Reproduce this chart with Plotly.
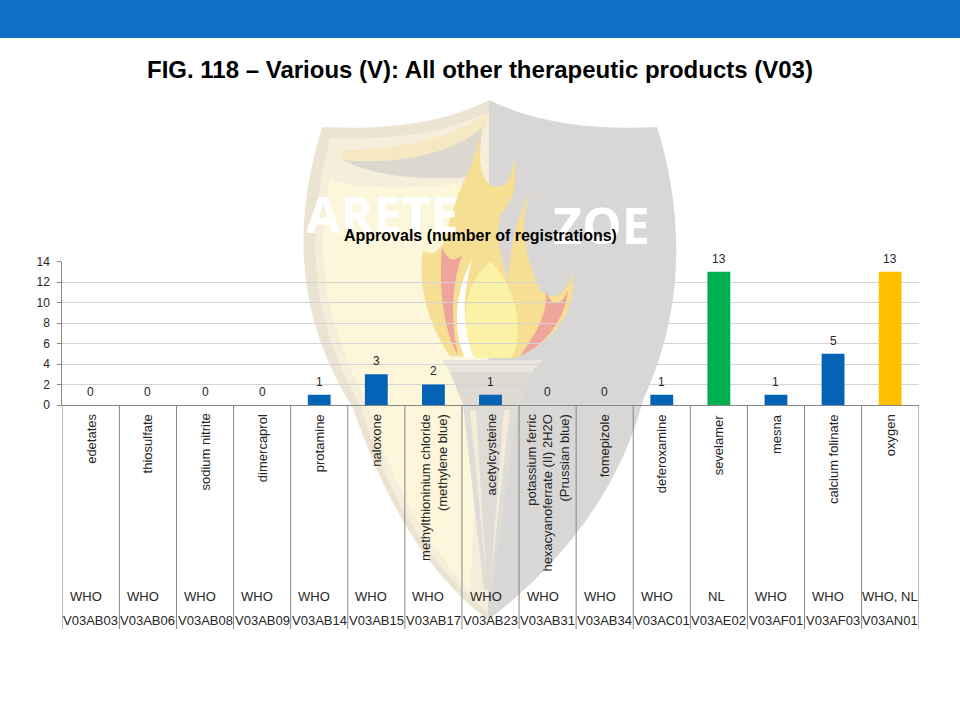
import plotly.graph_objects as go

# chart data
drugs = ['edetates', 'thiosulfate', 'sodium nitrite', 'dimercaprol', 'protamine', 'naloxone',
         'methylthioninium chloride<br>(methylene blue)', 'acetylcysteine',
         'potassium ferric<br>hexacyanoferrate (II) 2H2O<br>(Prussian blue)', 'fomepizole',
         'deferoxamine', 'sevelamer', 'mesna', 'calcium folinate', 'oxygen']
sources = ['WHO', 'WHO', 'WHO', 'WHO', 'WHO', 'WHO', 'WHO', 'WHO', 'WHO', 'WHO', 'WHO',
           'NL', 'WHO', 'WHO', 'WHO, NL']
codes = ['V03AB03', 'V03AB06', 'V03AB08', 'V03AB09', 'V03AB14', 'V03AB15', 'V03AB17', 'V03AB23',
         'V03AB31', 'V03AB34', 'V03AC01', 'V03AE02', 'V03AF01', 'V03AF03', 'V03AN01']
approvals = [0, 0, 0, 0, 1, 3, 2, 1, 0, 0, 1, 13, 1, 5, 13]

source_colors = {'WHO': '#0563B5', 'NL': '#00B050', 'WHO, NL': '#FFC000'}
source_shift = {'WHO': -5, 'NL': -2, 'WHO, NL': 0}
FONT = 'Liberation Sans'
W, H = 960, 720


def py(y):
    return 1 - y / H


def paper_path(text):
    # path written in page pixels, shapes want paper fractions
    out, is_x = [], True
    for tok in text.split():
        if tok.isalpha():
            out.append(tok)
        elif is_x:
            out.append(str(float(tok) / W))
            is_x = False
        else:
            out.append(str(py(float(tok))))
            is_x = True
    return ' '.join(out)


def blob(path, color):
    return dict(type='path', path=paper_path(path), xref='paper', yref='paper',
                fillcolor=color, line_width=0, layer='below')


# faded logo behind the chart
logo = [
    # left and right half of the shield
    blob('M 489 100 C 440 125 380 130 322 127 C 300 200 285 300 353 408 C 375 470 410 560 488 620 Z', '#ECE4D2'),
    blob('M 489 100 C 540 125 600 130 657 127 C 680 200 690 300 643 400 C 625 470 580 550 488 620 Z', '#D9D7D5'),
    # warm shading on the left half, lighter towards the middle
    blob('M 489 112 C 440 135 385 140 330 138 C 312 210 300 300 360 405 C 380 470 415 555 488 612 Z', '#F5EEDA'),
    blob('M 482 180 C 420 190 350 190 330 178 C 316 250 320 310 368 405 C 388 470 420 540 470 590 L 482 360 Z', '#FCF6DB'),
    blob('M 489 112 C 450 140 395 150 340 150 L 343 160 C 395 165 450 155 482 135 Z', '#F7E8C4'),
    # dark wing
    blob('M 343 160 C 395 165 450 155 482 128 L 478 176 C 440 180 380 180 343 160 Z', '#DBD8CF'),
    # flames
    blob('M 450 356 C 425 320 418 280 423 250 C 432 258 440 250 445 240 C 450 215 458 195 463 183 '
         'C 470 170 478 150 480 127 C 478 150 480 170 485 180 C 495 192 512 190 513 160 '
         'C 520 185 510 205 500 215 C 495 240 503 265 508 282 C 510 240 520 210 530 193 '
         'C 520 220 522 250 540 290 C 550 300 565 300 572 273 C 578 310 555 340 517 358 Z', '#F6DF93'),
    blob('M 491 262 C 470 275 460 310 468 345 L 475 358 L 512 358 C 525 330 515 285 491 262 Z', '#FCF2A6'),
    blob('M 442 247 C 448 262 455 262 462 255 C 452 285 450 320 458 355 C 445 335 438 290 442 247 Z', '#EFA59B'),
    blob('M 546 290 C 550 305 560 310 568 290 C 565 320 545 345 520 356 C 535 335 548 315 546 290 Z', '#EFA59B'),
    blob('M 472 260 C 455 290 452 330 465 358 L 474 358 C 462 330 462 295 472 260 Z', '#FFFFFF'),
    # pedestal and stem
    blob('M 442 360 L 543 360 L 532 372 L 450 372 Z', '#E8E6DC'),
    blob('M 450 372 L 532 372 L 520 405 L 463 405 Z', '#DCDAD2'),
    blob('M 463 405 L 518 405 L 492 590 L 484 590 Z', '#DEDCD6'),
    blob('M 470 410 L 476 410 L 486 575 Z', '#F3EDD8'),
    blob('M 504 410 L 510 410 L 491 575 Z', '#F3EDD8'),
]

fig = go.Figure()
fig.add_trace(go.Bar(
    x=list(range(len(codes))),
    y=approvals,
    width=0.4,
    marker_color=[source_colors[s] for s in sources],
    marker_line_width=0,
    hoverinfo='skip',
))

annotations = [
    dict(text='<b>ARETE</b>', x=382 / W, y=py(214), font=dict(family='Open Sans', size=50, color='white')),
    dict(text='<b>ZOE</b>', x=601 / W, y=py(225), font=dict(family='Open Sans', size=50, color='white')),
    dict(text='<b>FIG. 118 – Various (V): All other therapeutic products (V03)</b>', x=480 / W, y=py(70),
         font=dict(family=FONT, size=24, color='black')),
    dict(text='<b>Approvals (number of registrations)</b>', x=480 / W, y=py(236),
         font=dict(family=FONT, size=16, color='black')),
]
for a in annotations:
    a.update(xref='paper', yref='paper', showarrow=False, xanchor='center', yanchor='middle')

label_font = dict(family=FONT, size=13, color='#262626')
for i in range(len(codes)):
    annotations.append(dict(x=i, y=approvals[i], xref='x', yref='y', text=str(approvals[i]), showarrow=False,
                            yshift=13, yanchor='middle', font=dict(family=FONT, size=12, color='#262626')))
    annotations.append(dict(x=i, y=py(412), xref='x', yref='paper', text=drugs[i], showarrow=False,
                            textangle=-90, yanchor='top', align='right', font=label_font))
    annotations.append(dict(x=i, y=py(596), xref='x', yref='paper', text=sources[i], showarrow=False,
                            yanchor='middle', xshift=source_shift[sources[i]], font=label_font))
    annotations.append(dict(x=i, y=py(620), xref='x', yref='paper', text=codes[i], showarrow=False,
                            yanchor='middle', font=label_font))

# category table lines under the axis
table_lines = [dict(type='line', xref='x', yref='paper', x0=i - 0.5, x1=i - 0.5, y0=py(405), y1=py(629),
                    line=dict(color='#868686', width=1))
               for i in range(len(codes) + 1)]

fig.update_layout(
    width=W, height=H,
    autosize=False,
    margin=dict(l=0, r=0, t=0, b=0),
    paper_bgcolor='white',
    plot_bgcolor='rgba(0,0,0,0)',
    showlegend=False,
    font=dict(family=FONT),
    xaxis=dict(domain=[62.3 / W, 918.7 / W], range=[-0.5, 14.5], showticklabels=False, ticks='', automargin=False,
               showgrid=False, zeroline=False, showline=True, linecolor='#868686', fixedrange=True),
    yaxis=dict(domain=[py(405), py(261.5)], range=[0, 14], dtick=2, ticks='outside', ticklen=4, automargin=False,
               ticklabelstandoff=5, tickcolor='#868686', showline=True, linecolor='#868686', gridcolor='#D4D4D4',
               zeroline=False, tickfont=dict(family=FONT, size=12, color='#262626'), fixedrange=True),
    shapes=[dict(type='rect', xref='paper', yref='paper', x0=0, x1=1, y0=py(38), y1=1,
                 fillcolor='#0F6FC6', line_width=0, layer='above')] + logo + table_lines,
    annotations=annotations,
)

# the page's default body margin would push the figure off the window edges
fig.write_html("out.html", config={'displayModeBar': False},
               post_script="document.body.style.margin='0';"
               "var g=document.getElementById('{plot_id}');g.style.position='fixed';g.style.left='0';g.style.top='0';")
